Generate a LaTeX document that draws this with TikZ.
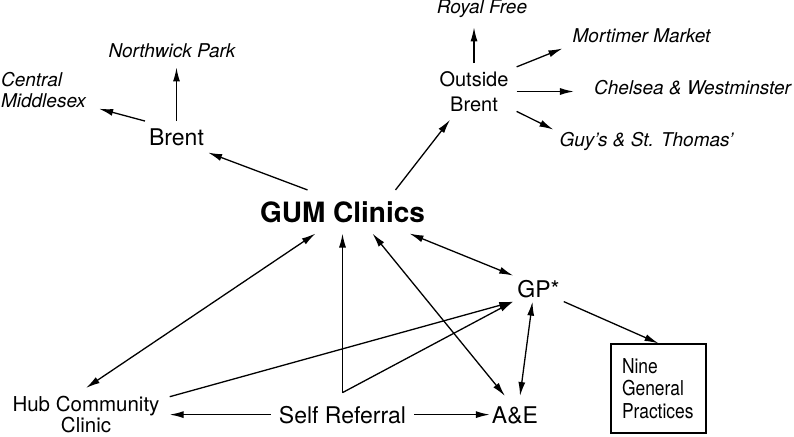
\documentclass[tikz,border=0pt]{standalone}
\usepackage{fontspec}
\setmainfont{TeX Gyre Heros}
\newfontfamily\narrowheros[FakeStretch=0.85]{TeX Gyre Heros}
\usepackage{tikz}
\usetikzlibrary{arrows.meta}

\begin{document}
\begin{tikzpicture}[x=1pt,y=-1pt]
	\tikzstyle{hosp} = [font=\fontsize{19}{21}\selectfont\itshape, inner sep=6pt];
	\tikzstyle{big} = [font=\fontsize{23}{27}\selectfont, inner sep=4pt, anchor=base];
	\tikzstyle{mid} = [font=\fontsize{20.5}{21}\selectfont, align=center, inner xsep=10pt, inner ysep=8pt];
	\tikzstyle{box} = [draw, line width=1.3pt, font=\narrowheros\fontsize{20.5}{22.5}\selectfont, align=left, text width=73pt, inner xsep=11pt, minimum height=89pt];
	\tikzstyle{arr} = [-{Latex[length=14pt,width=7pt]}, line width=1.3pt];
	\tikzstyle{arrs} = [{Latex[length=14pt,width=7pt]}-{Latex[length=14pt,width=7pt]}, line width=1.3pt];
	
	\useasboundingbox (0,0) rectangle (794,436);
	
	\node[font=\fontsize{28}{32}\selectfont\bfseries, inner xsep=6pt, inner ysep=11pt, anchor=base] (gum) at (342.5,222) {GUM Clinics};
	
	\node[big, inner ysep=7pt] (brent) at (176.5,145) {Brent};
	\node[mid, font=\fontsize{20}{25}\selectfont, inner xsep=8pt] (ob) at (474,91.5) {Outside\\Brent};
	\node[big] (gp) at (538.5,297) {GP*};
	\node[big, inner xsep=8pt, inner ysep=13pt] (sr) at (342.5,423) {Self Referral};
	\node[big, inner xsep=2pt, inner ysep=10pt] (ae) at (515,423) {A\&E};
	\node[mid] (hub) at (86,414.5) {Hub Community\\Clinic};
	\node[box] (nine) at (658.5,388.5) {Nine\\General\\Practices};
	
	\node[hosp, align=left] (cm) at (43.5,89.8) {Central\\Middlesex};
	\node[hosp, anchor=base] (np) at (172,57) {Northwick Park};
	\node[hosp, anchor=base] (rf) at (482,14) {Royal Free};
	\node[hosp, anchor=base] (mm) at (641.5,42) {Mortimer Market};
	\node[hosp, anchor=base] (cw) at (692.5,94) {Chelsea \& Westminster};
	\node[hosp, anchor=base] (gst) at (646.5,146) {Guy's \& St. Thomas'};
	
	\draw[arr] ([xshift=-35pt]gum.north) -- (brent.south east);
	\draw[arr] (brent.north west) -- ([xshift=7pt,yshift=5pt]cm.south east);
	\draw[arr, shorten >=4pt] (brent.north) -- (brent.north |- np.south);
	
	\draw[arr] ([xshift=53pt]gum.north) -- ([xshift=-24pt]ob.south);
	\draw[arr, shorten >=3pt] (ob.north) -- (ob.north |- rf.south);
	\draw[arr] (ob.30) -- ([xshift=-4pt]mm.south west);
	\draw[arr, shorten >=14pt] (ob.east) -- (ob.east -| cw.west);
	\draw[arr] (ob.-25) -- ([yshift=-4pt]gst.north west);
	
	\draw[arrs] ([xshift=-27pt]gum.south) -- (hub.north);
	\draw[arr] (sr.north) -- (gum.south);
	\draw[arr] (sr.north) -- (gp.south west);
	\draw[arr] (hub.12) -- (gp.south west);
	\draw[arrs] ([xshift=30pt]gum.south) -- ([xshift=-10pt]ae.north);
	\draw[arrs] ([xshift=67pt]gum.south) -- (gp.north west);
	\draw[arrs] ([xshift=-6pt]gp.south) -- ([xshift=5pt]ae.north);
	\draw[arr] (gp.south east) -- (nine.north);
	
	\draw[arr] (sr.west) -- (sr.west -| hub.east);
	\draw[arr] (sr.east) -- (sr.east -| ae.west);
\end{tikzpicture}
\end{document}
